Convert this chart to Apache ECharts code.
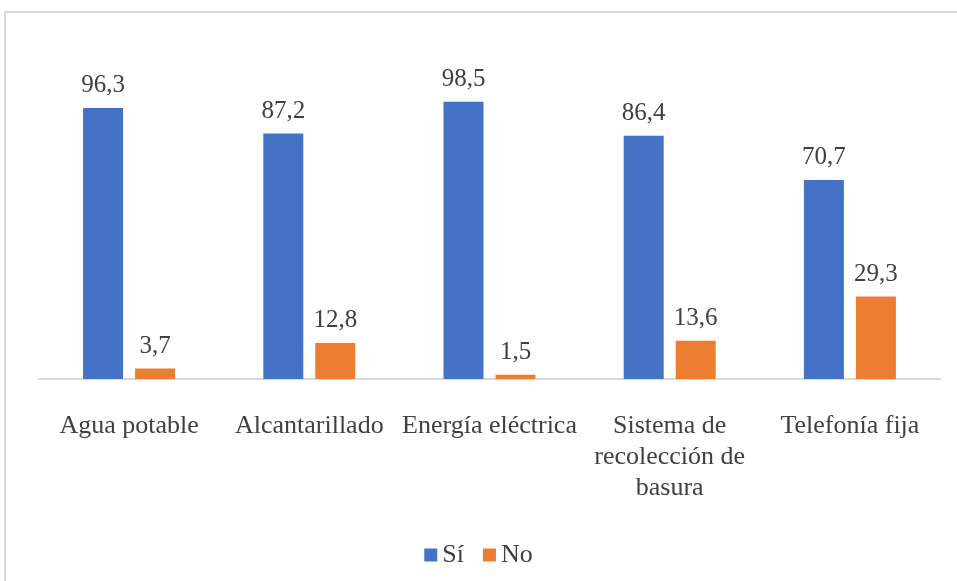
<!DOCTYPE html>
<html>
<head>
<meta charset="utf-8">
<script src="https://cdn.jsdelivr.net/npm/echarts@6/dist/echarts.min.js"></script>
<style>
  html, body { margin: 0; padding: 0; background: #fff; }
  #chart { width: 957px; height: 581px; }
</style>
</head>
<body>
<div id="chart"></div>
<script>
// Servicios básicos de la vivienda (%)
const categories = ['Agua potable', 'Alcantarillado', 'Energía eléctrica', 'Sistema de\nrecolección de\nbasura', 'Telefonía fija'];
const siValues = [96.3, 87.2, 98.5, 86.4, 70.7];
const noValues = [3.7, 12.8, 1.5, 13.6, 29.3];
const seriesNames = ['Sí', 'No'];

const textColor = '#404040';
const fontFamily = '"Liberation Serif", "Times New Roman", serif';
const fmt = p => p.value.toFixed(1).replace('.', ',');

const chart = echarts.init(document.getElementById('chart'), null, { renderer: 'canvas' });
chart.setOption({
  animation: false,
  textStyle: { fontFamily: fontFamily },
  graphic: [{
    type: 'rect',
    shape: { x: 5, y: 12, width: 1000, height: 1000 },
    style: { fill: 'none', stroke: '#d9d9d9', lineWidth: 2 },
    silent: true,
    z: -1
  }],
  grid: { left: 39, right: 17, top: 97.6, bottom: 202, containLabel: false },
  legend: {
    bottom: 8,
    left: 'center',
    itemWidth: 13,
    itemHeight: 13,
    itemGap: 19,
    icon: 'rect',
    textStyle: { fontSize: 26, color: textColor, fontFamily: fontFamily },
    data: seriesNames
  },
  xAxis: {
    type: 'category',
    data: categories,
    axisLine: { lineStyle: { color: '#d9d9d9', width: 2 } },
    axisTick: { show: false },
    axisLabel: {
      interval: 0,
      margin: 32,
      fontSize: 26,
      lineHeight: 31,
      color: textColor,
      fontFamily: fontFamily
    }
  },
  yAxis: {
    type: 'value',
    min: 0,
    max: 100,
    show: false,
    splitLine: { show: false }
  },
  series: [
    {
      name: seriesNames[0],
      type: 'bar',
      data: siValues,
      barWidth: 40,
      barGap: '30%',
      itemStyle: { color: '#4472C4' },
      label: { show: true, position: 'top', distance: 10, fontSize: 25, color: textColor, fontFamily: fontFamily, formatter: fmt }
    },
    {
      name: seriesNames[1],
      type: 'bar',
      data: noValues,
      barWidth: 40,
      barGap: '30%',
      itemStyle: { color: '#ED7D31' },
      label: { show: true, position: 'top', distance: 10, fontSize: 25, color: textColor, fontFamily: fontFamily, formatter: fmt }
    }
  ]
});
</script>
</body>
</html>
